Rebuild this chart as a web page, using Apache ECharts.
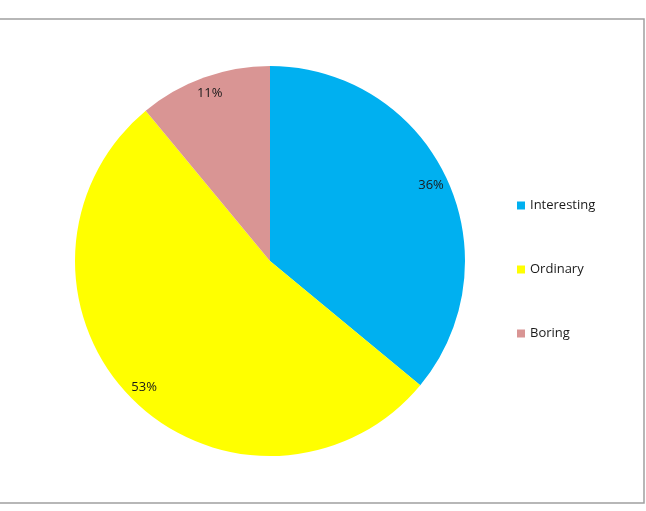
<!DOCTYPE html>
<html>
<head>
<meta charset="utf-8">
<script src="https://cdn.jsdelivr.net/npm/echarts@6/dist/echarts.min.js"></script>
<style>
  html, body { margin: 0; padding: 0; background: #fff; }
  #chart { width: 646px; height: 511px; }
</style>
</head>
<body>
<div id="chart"></div>
<script>
var categories = ['Interesting', 'Ordinary', 'Boring'];
var shares = [36, 53, 11];
var colors = ['#00b0f0', '#ffff00', '#d99594'];

var pieData = categories.map(function (name, i) {
    return { name: name, value: shares[i], itemStyle: { color: colors[i] } };
});

var chart = echarts.init(document.getElementById('chart'));
var option = {
    animation: false,
    graphic: [
        // frame of the chart area (left edge sits off-page)
        {
            type: 'rect',
            shape: { x: -5, y: 19, width: 649, height: 484 },
            style: { fill: 'none', stroke: '#a0a0a0', lineWidth: 1.5 },
            silent: true
        }
    ],
    legend: {
        orient: 'vertical',
        left: 517,
        top: 199,
        padding: 0,
        icon: 'rect',
        itemWidth: 8,
        itemHeight: 8,
        itemGap: 51,
        data: categories,
        textStyle: { fontFamily: 'Open Sans', fontSize: 13, color: '#1a1a1a' }
    },
    series: [
        {
            type: 'pie',
            center: [270, 261],
            radius: [0, 195],
            startAngle: 90,
            clockwise: true,
            label: { show: false },
            labelLine: { show: false },
            data: pieData
        },
        {
            // label ring near the rim
            type: 'pie',
            center: [270, 261],
            radius: [155, 195],
            startAngle: 90,
            clockwise: true,
            silent: true,
            itemStyle: { color: 'transparent' },
            label: {
                show: true,
                position: 'inside',
                formatter: '{c}%',
                fontFamily: 'Open Sans',
                fontSize: 13,
                color: '#1a1a1a'
            },
            labelLine: { show: false },
            data: categories.map(function (name, i) {
                return { name: name, value: shares[i], itemStyle: { color: 'transparent' } };
            })
        }
    ]
};
chart.setOption(option);
</script>
</body>
</html>
